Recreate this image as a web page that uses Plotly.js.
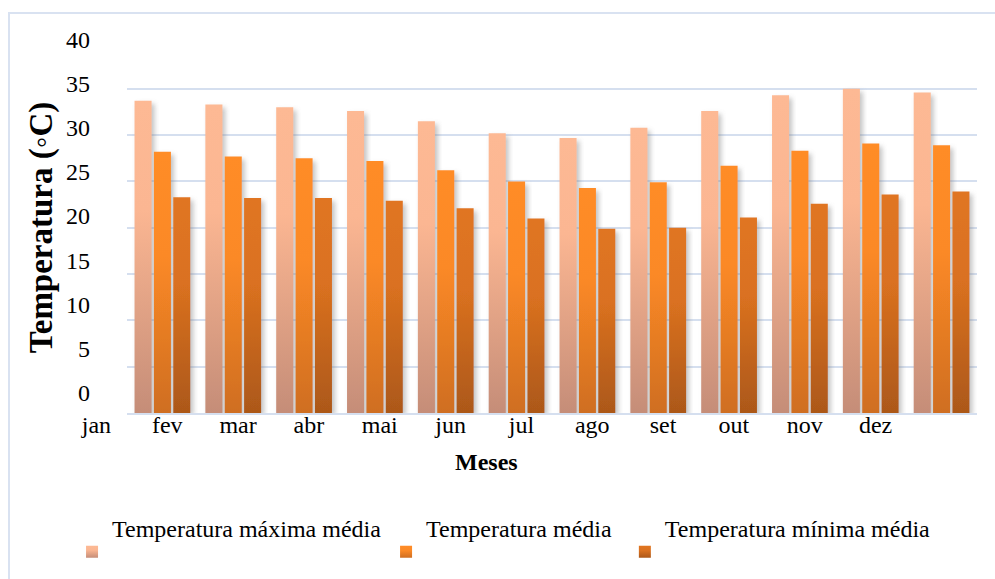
<!DOCTYPE html>
<html><head><meta charset="utf-8">
<script src="https://cdn.plot.ly/plotly-3.0.1.min.js"></script>
<style>
html,body{margin:0;padding:0;background:#fff;overflow:hidden;}
#chart{width:995px;height:579px;position:absolute;left:0;top:0;}
#frame{position:absolute;left:8px;top:12px;width:1000px;height:600px;border-left:2px solid #D9E2F1;border-top:2px solid #D9E2F1;pointer-events:none;}
</style></head><body>
<div id="chart"></div><div id="frame"></div>
<script>
const months = ['jan','fev','mar','abr','mai','jun','jul','ago','set','out','nov','dez'];
const tempMax  = [33.7, 33.3, 33.0, 32.6, 31.5, 30.2, 29.7, 30.8, 32.6, 34.3, 35.0, 34.6];
const tempMean = [28.2, 27.7, 27.5, 27.2, 26.2, 25.0, 24.3, 24.9, 26.7, 28.3, 29.1, 28.9];
const tempMin  = [23.3, 23.2, 23.2, 22.9, 22.1, 21.0, 19.9, 20.0, 21.1, 22.6, 23.6, 23.9];
const seriesNames = ['Temperatura máxima média', 'Temperatura média', 'Temperatura mínima média'];
const yTickVals = [0, 5, 10, 15, 20, 25, 30, 35, 40];
const yTickText = ['0', '5', '10', '15', '20', '25', '30', '35', '40'];

const baseColors = ['#F9B38F', '#F8861F', '#D36C1C'];
const gradStops = [
  [[0, '#FDB994'], [0.35, '#FBB692'], [1, '#C58D78']],
  [[0, '#FF8C28'], [0.4, '#FB8926'], [1, '#CF6E21']],
  [[0, '#E07520'], [0.4, '#DA7120'], [1, '#AC5819']]
];
const FONT = 'Liberation Serif, Times New Roman, serif';
const gridColor = '#D5DFEF';
const legendIds = ['legend', 'legend2', 'legend3'];
const legendX = [0.0724, 0.388, 0.628];

const seriesVals = [tempMax, tempMean, tempMin];
const traces = seriesVals.map((vals, i) => ({
  type: 'bar',
  name: '<span style="font-size:24px">' + seriesNames[i] + '</span><br>\u00a0',
  legend: legendIds[i],
  x: months,
  y: vals,
  marker: {color: baseColors[i], line: {width: 0}},
  hoverinfo: 'x+y'
}));
// invisible carrier so the secondary (label) axis is drawn
traces.push({
  type: 'scatter', mode: 'markers', x: [months[0]], y: [yTickVals[0]],
  yaxis: 'y2', marker: {opacity: 0, size: 1}, showlegend: false, hoverinfo: 'skip'
});

const legendBase = {
  orientation: 'h', xref: 'container', yref: 'container',
  y: 1 - 552/579, xanchor: 'left', yanchor: 'middle',
  valign: 'middle',
  font: {family: FONT, size: 56, color: '#000'},
  bgcolor: 'rgba(0,0,0,0)'
};

const layout = {
  width: 995, height: 579,
  margin: {l: 127, r: 18, t: 42, b: 166, pad: 0},
  paper_bgcolor: '#ffffff', plot_bgcolor: '#ffffff',
  font: {family: FONT, size: 24, color: '#000'},
  barmode: 'group', bargap: 0.18, bargroupgap: 0.12,
  showlegend: true,
  xaxis: {
    type: 'category', range: [-0.5, months.length - 0.5],
    showgrid: false, zeroline: false,
    showline: true, linecolor: gridColor, linewidth: 2,
    ticks: '', ticklabelshift: -66, ticklabelstandoff: -11,
    tickfont: {family: FONT, size: 24, color: '#000'}
  },
  yaxis: {
    range: [0, 40.05], tickvals: yTickVals,
    showticklabels: false, ticks: '',
    showgrid: true, gridcolor: gridColor, gridwidth: 2,
    zeroline: false, showline: false
  },
  yaxis2: {
    overlaying: 'y', side: 'left',
    range: [-1.95, 40.02],
    tickvals: yTickVals, ticktext: yTickText,
    showgrid: false, zeroline: false, showline: false, ticks: '',
    ticklabelstandoff: 36, ticklabelshift: -3,
    tickfont: {family: FONT, size: 24, color: '#000'},
    title: {text: '<b>Temperatura (◦C)</b>', standoff: 3, font: {family: FONT, size: 33, color: '#000'}}
  },
  legend:  Object.assign({}, legendBase, {x: legendX[0]}),
  legend2: Object.assign({}, legendBase, {x: legendX[1]}),
  legend3: Object.assign({}, legendBase, {x: legendX[2]}),
  annotations: [{
    text: '<b>Meses</b>', xref: 'paper', yref: 'paper',
    x: 0.4235, y: -0.131, xanchor: 'center', yanchor: 'middle',
    showarrow: false, font: {family: FONT, size: 24, color: '#000'}
  }]
};

Plotly.newPlot('chart', traces, layout, {staticPlot: true}).then(gd => {
  const ns = 'http://www.w3.org/2000/svg';
  const svg = gd.querySelector('svg.main-svg');
  const defs = document.createElementNS(ns, 'defs');
  svg.insertBefore(defs, svg.firstChild);
  gradStops.forEach((stops, i) => {
    const lg = document.createElementNS(ns, 'linearGradient');
    lg.setAttribute('id', 'barGrad' + i);
    lg.setAttribute('x1', '0'); lg.setAttribute('y1', '0');
    lg.setAttribute('x2', '0'); lg.setAttribute('y2', '1');
    stops.forEach(s => {
      const st = document.createElementNS(ns, 'stop');
      st.setAttribute('offset', s[0]);
      st.setAttribute('stop-color', s[1]);
      lg.appendChild(st);
    });
    defs.appendChild(lg);
  });
  const f = document.createElementNS(ns, 'filter');
  f.setAttribute('id', 'barShadow');
  f.setAttribute('x', '-30%'); f.setAttribute('y', '-10%');
  f.setAttribute('width', '170%'); f.setAttribute('height', '130%');
  const ds = document.createElementNS(ns, 'feDropShadow');
  ds.setAttribute('dx', '3'); ds.setAttribute('dy', '3');
  ds.setAttribute('stdDeviation', '2.5');
  ds.setAttribute('flood-color', '#7a7a7a');
  ds.setAttribute('flood-opacity', '0.45');
  f.appendChild(ds);
  defs.appendChild(f);
  gd.querySelectorAll('.barlayer .trace').forEach((tr, i) => {
    tr.querySelectorAll('path').forEach(p => {
      p.style.fill = 'url(#barGrad' + i + ')';
      p.setAttribute('filter', 'url(#barShadow)');
    });
  });
  legendIds.forEach((id, i) => {
    const lgEl = gd.querySelector('.' + id) || gd.querySelectorAll('.legend')[i];
    if (!lgEl) return;
    lgEl.querySelectorAll('.legendpoints path').forEach(p => {
      p.style.fill = 'url(#barGrad' + i + ')';
    });
  });
});
</script>
</body></html>
